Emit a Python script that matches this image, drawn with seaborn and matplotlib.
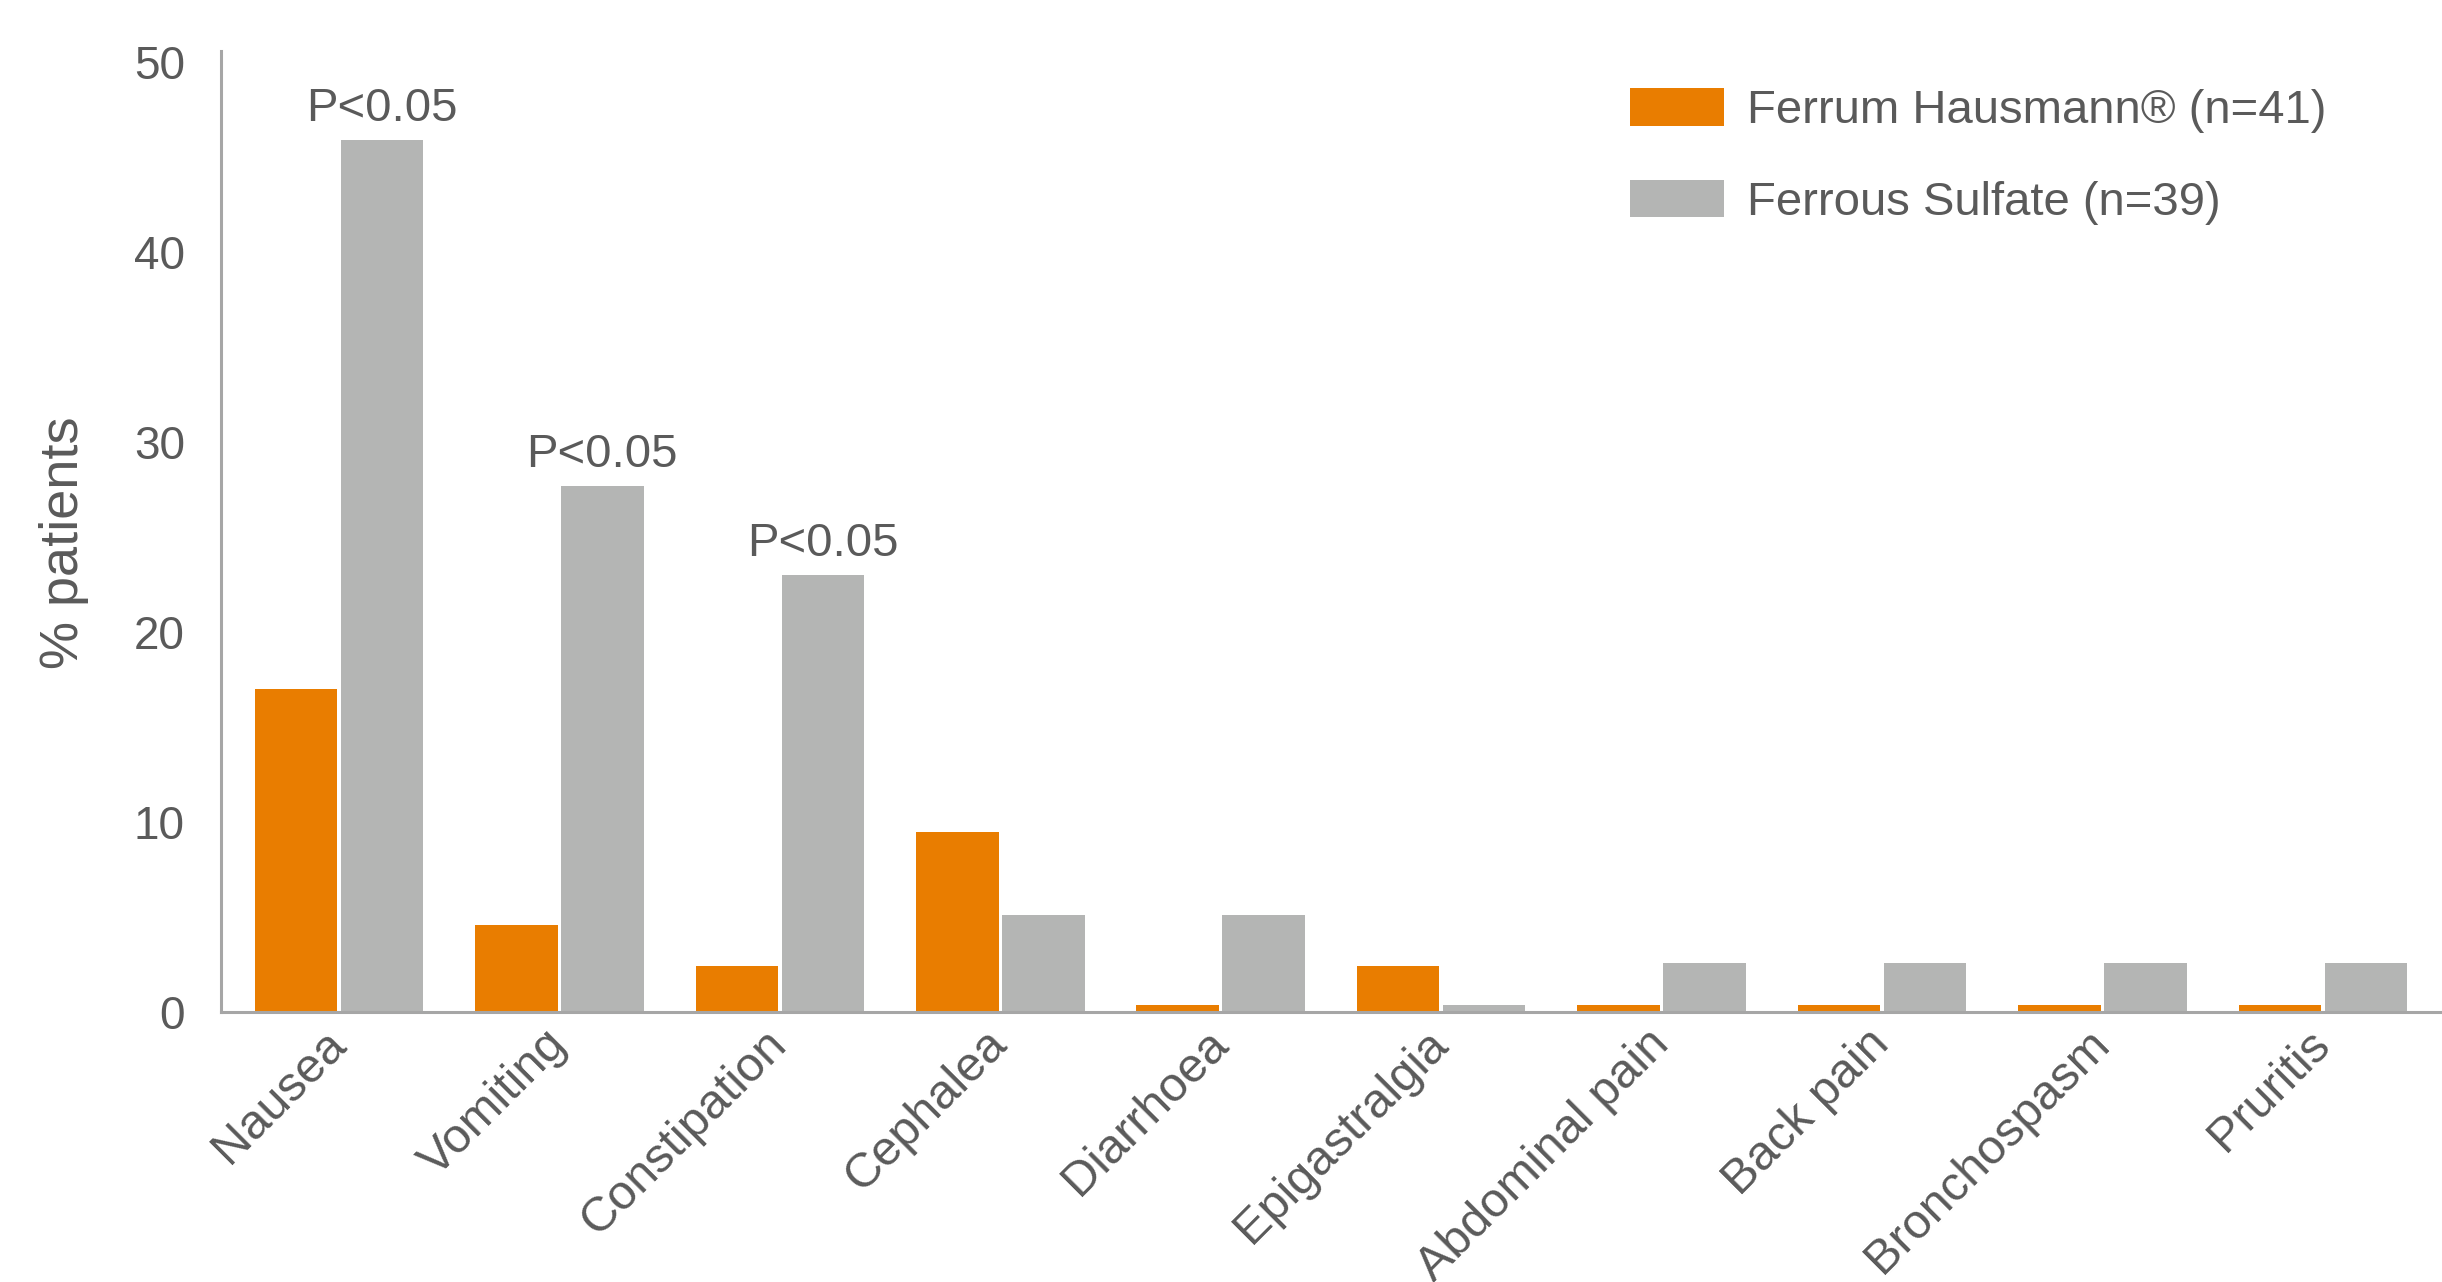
import numpy as np
import pandas as pd
import matplotlib
matplotlib.use("Agg")
import matplotlib.pyplot as plt
import seaborn as sns

categories = ["Nausea", "Vomiting", "Constipation", "Cephalea", "Diarrhoea",
              "Epigastralgia", "Abdominal pain", "Back pain", "Bronchospasm", "Pruritis"]
ferrum_hausmann = [17.0, 4.6, 2.4, 9.5, 0.35, 2.4, 0.35, 0.35, 0.35, 0.35]
ferrous_sulfate = [45.9, 27.7, 23.0, 5.1, 5.1, 0.35, 2.6, 2.6, 2.6, 2.6]
series_names = ["Ferrum Hausmann\u00ae (n=41)", "Ferrous Sulfate (n=39)"]
significant = ["Nausea", "Vomiting", "Constipation"]
p_label = "P<0.05"
y_ticks = [0, 10, 20, 30, 40, 50]

ORANGE = "#E97D00"
GREY = "#B4B5B4"
AXIS = "#A6A6A6"
TEXT = "#5A5A5A"

df = pd.DataFrame({
    "symptom": categories * 2,
    "pct": ferrum_hausmann + ferrous_sulfate,
    "group": [series_names[0]] * len(categories) + [series_names[1]] * len(categories),
})

sns.set_style("white")
plt.rcParams["font.family"] = ["Liberation Sans", "DejaVu Sans"]

fig = plt.figure(figsize=(12.21, 6.41), dpi=200)
ax = fig.add_axes([0.0905, 0.2106, 0.9095, 0.7496])

sns.barplot(data=df, x="symptom", y="pct", hue="group", order=categories,
            hue_order=series_names, palette=[ORANGE, GREY], width=0.78, gap=0.04,
            saturation=1, errorbar=None, linewidth=0, ax=ax)

# p-value labels over the grey bars
for bar, name, val in zip(ax.containers[1], categories, ferrous_sulfate):
    if name in significant:
        ax.text(bar.get_x() + bar.get_width() / 2, val + 1.0, p_label,
                ha="center", va="baseline", fontsize=17, color=TEXT)

n = len(categories)
shift = 0.535
ax.set_xlim(-shift, n - shift + 0.075)
ax.set_ylim(0, 50.6)
ax.set_yticks(y_ticks)

ax.set_xticks(np.arange(n + 1) - shift)
ax.set_xticklabels([])
ax.set_xticks(np.arange(n), minor=True)
ax.set_xticklabels(categories, minor=True, rotation=45, ha="right",
                   va="center", rotation_mode="anchor")

ax.tick_params(axis="x", which="major", length=7.5, width=1.1, color=AXIS, direction="out")
ax.tick_params(axis="x", which="minor", length=0, pad=9, labelsize=17.5, labelcolor=TEXT)
ax.tick_params(axis="y", length=6, width=1.1, color=AXIS, direction="out",
               pad=7, labelsize=16.5, labelcolor=TEXT)

for side in ["top", "right"]:
    ax.spines[side].set_visible(False)
for side in ["left", "bottom"]:
    ax.spines[side].set_color(AXIS)
    ax.spines[side].set_linewidth(1.1)

ax.set_xlabel("")
ax.set_ylabel("% patients", fontsize=19.5, color=TEXT, labelpad=16)
ax.yaxis.label.set_y(0.488)

handles, labels = ax.get_legend_handles_labels()
ax.legend(handles, labels, loc="upper left", bbox_to_anchor=(0.6675, 0.931),
          bbox_transform=fig.transFigure, frameon=False, fontsize=17,
          labelcolor=TEXT, handlelength=1.98, handleheight=0.83,
          handletextpad=0.5, labelspacing=0.98, borderpad=0, borderaxespad=0)

fig.savefig("out.png", dpi=200)
